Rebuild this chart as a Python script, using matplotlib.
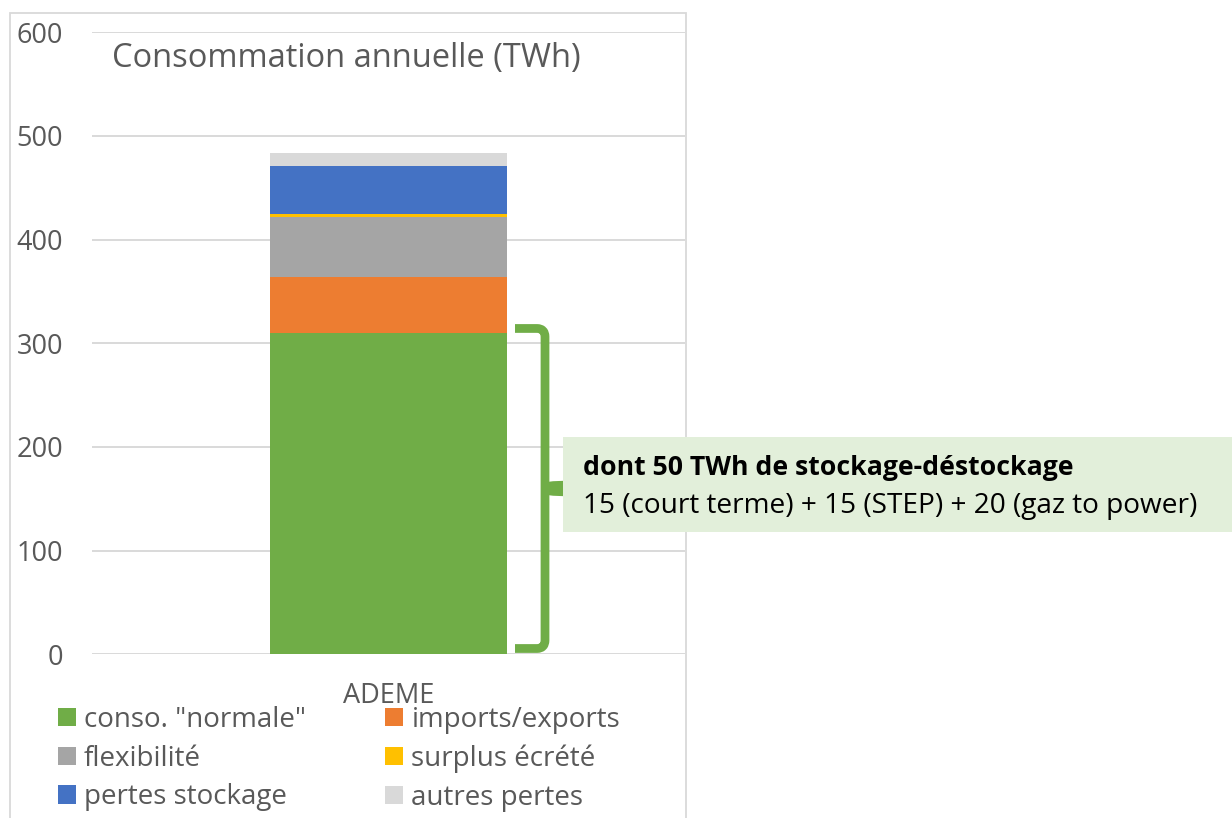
import matplotlib
matplotlib.use("Agg")
import matplotlib.pyplot as plt
from matplotlib.patches import Rectangle
from matplotlib.path import Path
from matplotlib.patches import PathPatch
from matplotlib.transforms import blended_transform_factory

# ── data (TWh) ─────────────────────────────────────────────
category = "ADEME"
series_labels = ['conso. "normale"', "imports/exports", "flexibilité",
                 "surplus écrété", "pertes stockage", "autres pertes"]
series_values = [310, 54, 58, 3, 46.5, 12.5]
series_colors = ["#70AD47", "#ED7D31", "#A5A5A5", "#FFC000", "#4472C4", "#D9D9D9"]
y_ticks = [0, 100, 200, 300, 400, 500, 600]
brace_range = (5.6, 314.3)      # span covered by the curly brace
title = "Consommation annuelle (TWh)"
note_bold = "dont 50 TWh de stockage-déstockage"
note_line = "15 (court terme) + 15 (STEP) + 20 (gaz to power)"

W, H = 1232, 818
TXT = "#595959"
GRID = "#D9D9D9"
plt.rcParams["font.family"] = ["Open Sans", "DejaVu Sans"]

fig = plt.figure(figsize=(W / 100, H / 100), dpi=100)


def fx(x):
    return x / W


def fy(y):
    return 1 - y / H


ax = fig.add_axes([fx(92), fy(654.3), fx(685) - fx(92), fy(32.3) - fy(654.3)])

bottom = 0
handles = []
for lab, val, col in zip(series_labels, series_values, series_colors):
    h = ax.bar([category], [val], bottom=bottom, width=0.401, color=col,
               label=lab, zorder=3)
    handles.append(h)
    bottom += val

ax.set_xlim(-0.5, 0.5)
ax.set_ylim(y_ticks[0], y_ticks[-1])
ax.set_yticks(y_ticks)
ax.grid(axis="y", color=GRID, lw=1.4, zorder=0)
for s in ax.spines.values():
    s.set_visible(False)
ax.tick_params(axis="y", length=0, pad=21, labelsize=19.5, labelcolor=TXT)
ax.tick_params(axis="x", length=0, pad=20, labelsize=19.5, labelcolor=TXT)
ax.set_facecolor("none")

# chart area border
fig.patches.append(Rectangle((fx(9.5), fy(830)), fx(686) - fx(9.5), fy(12.7) - fy(830),
                             transform=fig.transFigure, fill=False,
                             edgecolor=GRID, lw=1.3, zorder=0))

fig.text(fx(112), fy(67), title, fontsize=23.5, color=TXT, va="baseline", ha="left")

# legend, row-wise order
order = [0, 2, 4, 1, 3, 5]
leg = fig.legend([handles[i] for i in order], [series_labels[i] for i in order],
                 ncol=2, loc="upper left", bbox_to_anchor=(fx(58), fy(706)),
                 frameon=False, fontsize=20, handlelength=0.64, handleheight=0.64,
                 handletextpad=0.3, columnspacing=2.85, labelspacing=0.38,
                 borderpad=0, borderaxespad=0)
for t in leg.get_texts():
    t.set_color(TXT)

# curly brace (x in figure pixels, y in data)
bt = blended_transform_factory(fig.transFigure, ax.transData)
lo, hi = brace_range
xa, xv = fx(515), fx(545)
r = fx(8)
verts = [(xa, hi), (xv - r, hi), (xv, hi), (xv, hi - 8), (xv, lo + 8),
         (xv, lo), (xv - r, lo), (xa, lo)]
codes = [Path.MOVETO, Path.LINETO, Path.CURVE3, Path.CURVE3, Path.LINETO,
         Path.CURVE3, Path.CURVE3, Path.LINETO]
fig.patches.append(PathPatch(Path(verts, codes), transform=bt, fill=False,
                             edgecolor="#70AD47", lw=6.3, capstyle="butt",
                             joinstyle="round", zorder=4))
mid = (lo + hi) / 2
tip = [(fx(545), mid + 6), (fx(553), mid + 7), (fx(566), mid + 7.5),
       (fx(566), mid - 7.5), (fx(553), mid - 7), (fx(545), mid - 6)]
fig.patches.append(plt.Polygon(tip, closed=True, transform=bt,
                               facecolor="#70AD47", edgecolor="none", zorder=4))

# note box
fig.patches.append(Rectangle((fx(563), fy(531.7)), fx(1240) - fx(563), fy(437.3) - fy(531.7),
                             transform=fig.transFigure, facecolor="#E2EFDA",
                             edgecolor="none", zorder=5))
fig.text(fx(583), fy(475), note_bold, fontsize=19.2, fontweight="bold",
         color="black", va="baseline", zorder=6)
fig.text(fx(583), fy(513), note_line, fontsize=20.2, color="black",
         va="baseline", zorder=6)

fig.savefig("out.png", dpi=100)
